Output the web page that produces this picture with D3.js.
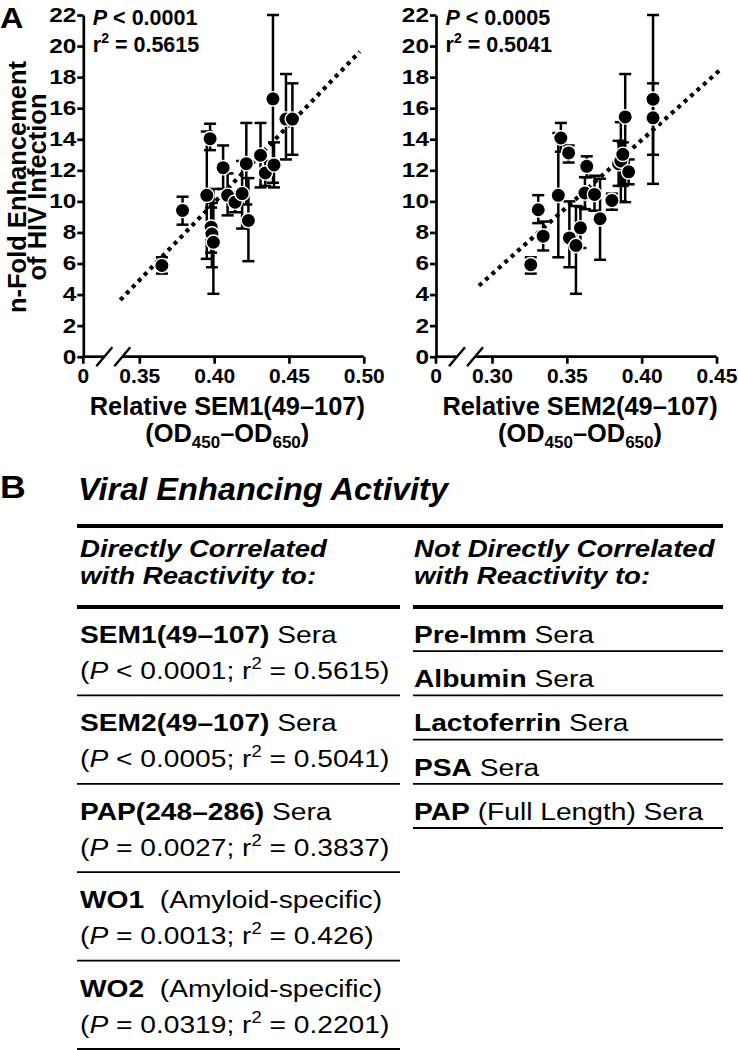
<!DOCTYPE html>
<html>
<head>
<meta charset="utf-8">
<script src="https://cdn.jsdelivr.net/npm/d3@7"></script>
<style>
  body { margin: 0; background: #fff; }
  text { font-family: "Liberation Sans", Arial, Helvetica, sans-serif; fill: #000; white-space: pre; }
</style>
</head>
<body>
<svg id="fig" width="738" height="1050"></svg>
<script>
// ---- panel A, left: SEM1(49-107) ----
const sem1X  = [0.3651, 0.3789, 0.3951, 0.3973, 0.3980, 0.3985, 0.3995, 0.4060, 0.4090, 0.4140, 0.4187, 0.4215, 0.4229, 0.4310, 0.4342, 0.4400, 0.4393, 0.4480, 0.4523];
const sem1Y  = [5.87, 9.42, 10.39, 14.04, 8.34, 7.90, 7.37, 12.17, 10.39, 9.95, 10.50, 12.43, 8.77, 12.97, 11.83, 12.35, 16.60, 15.30, 15.30];
const sem1Lo = [5.35, 8.50, 6.30, 13.30, 6.70, 5.76, 4.05, 10.80, 9.10, 9.30, 8.25, 9.80, 6.15, 10.90, 11.00, 10.90, 11.20, 12.70, 13.00];
const sem1Hi = [6.40, 10.30, 14.50, 15.00, 9.60, 9.90, 10.80, 13.60, 11.80, 10.60, 12.60, 15.05, 11.50, 15.05, 12.60, 13.80, 22.00, 18.20, 17.60];
const sem1FitX = [0.3373, 0.4973];
const sem1FitY = [3.65, 19.64];
const sem1Ticks = [0.35, 0.40, 0.45, 0.50];

// ---- panel A, right: SEM2(49-107) ----
const sem2X  = [0.3259, 0.3309, 0.3342, 0.3443, 0.3460, 0.3512, 0.3517, 0.3561, 0.3591, 0.3633, 0.3621, 0.3685, 0.3722, 0.3801, 0.3846, 0.3861, 0.3874, 0.3890, 0.3913, 0.4076, 0.4076];
const sem2Y  = [5.92, 9.46, 7.76, 10.39, 14.08, 13.12, 7.65, 7.16, 8.30, 12.26, 10.54, 10.45, 8.88, 10.06, 12.43, 12.60, 13.03, 15.44, 11.90, 16.58, 15.38];
const sem2Lo = [5.35, 8.60, 6.84, 6.40, 13.20, 12.50, 5.76, 4.05, 7.00, 11.55, 9.50, 9.40, 6.24, 9.46, 11.00, 10.00, 11.00, 9.95, 11.10, 13.00, 11.13];
const sem2Hi = [6.40, 10.40, 8.70, 14.40, 15.05, 13.60, 10.00, 9.70, 9.64, 12.90, 11.56, 11.65, 11.46, 10.50, 13.90, 15.10, 13.80, 18.20, 12.70, 22.00, 17.60];
const sem2FitX = [0.2913, 0.4523];
const sem2FitY = [4.57, 18.46];
const sem2Ticks = [0.30, 0.35, 0.40, 0.45];

const yTicks = d3.range(0, 23, 2);

// ---- panel B table ----
const corrNames  = ['SEM1(49–107)', 'SEM2(49–107)', 'PAP(248–286)', 'WO1', 'WO2'];
const corrSuffix = [' Sera', ' Sera', ' Sera', '  (Amyloid-specific)', '  (Amyloid-specific)'];
const corrOp     = ['<', '<', '=', '=', '='];
const corrP      = ['0.0001', '0.0005', '0.0027', '0.0013', '0.0319'];
const corrR2     = ['0.5615', '0.5041', '0.3837', '0.426', '0.2201'];
const notNames   = ['Pre-Imm', 'Albumin', 'Lactoferrin', 'PSA', 'PAP'];
const notSuffix  = [' Sera', ' Sera', ' Sera', ' Sera', ' (Full Length) Sera'];

const svg = d3.select('#fig');
const y = d3.scaleLinear().domain([0, 22]).range([356.7, 15]);

// text placed at (x, y), stretched horizontally by sx
function wideText(x, yy, sx) {
    return svg.append('g').attr('transform', `translate(${x},${yy}) scale(${sx},1)`).append('text');
}

function panel(ox, xs, ys, lo, hi, fitX, fitY, ticks, p, r2, label) {
    const g = svg.append('g').attr('transform', `translate(${ox},0)`);
    const x = d3.scaleLinear().domain([ticks[0], ticks[ticks.length - 1]]).range([56, 280.5]);

    let ya = g.append('g')
        .call(d3.axisLeft(y).tickValues(yTicks).tickSize(6).tickSizeOuter(0));
    let xa = g.append('g').attr('transform', `translate(0,${y(0)})`)
        .call(d3.axisBottom(x).tickValues(ticks).tickFormat(d3.format('.2f')).tickSize(7).tickSizeOuter(0).tickPadding(4.5));
    xa.select('.domain').remove();

    [ya, xa].forEach(a => {
        a.selectAll('path, line').attr('stroke', '#000').attr('stroke-width', 2.7);
        a.selectAll('text').attr('font-size', 21).attr('font-weight', 'bold')
            .attr('font-family', '"Liberation Sans", Arial, sans-serif').attr('fill', '#000');
    });
    ya.selectAll('text').attr('x', 0).attr('font-size', 20)
        .attr('transform', 'translate(-7,0) scale(1.22,1)');

    // x axis line, broken between 0 and the first tick
    const b1 = 21, b2 = 39;
    [[0, b1], [b2, 280.5]].forEach(s => {
        xa.append('line').attr('x1', s[0]).attr('x2', s[1]).attr('stroke', '#000').attr('stroke-width', 2.7);
    });
    [b1, b2].forEach(b => {
        xa.append('line').attr('x1', b - 8).attr('y1', 9.5).attr('x2', b + 8).attr('y2', -9.5)
            .attr('stroke', '#000').attr('stroke-width', 2.4);
    });
    let zero = xa.append('g');
    zero.append('line').attr('y2', 7).attr('stroke', '#000').attr('stroke-width', 2.7);
    zero.append('text').attr('y', 11.5).attr('dy', '0.71em').attr('text-anchor', 'middle')
        .attr('font-size', 21).attr('font-weight', 'bold').text('0');

    // error bars
    const idx = d3.range(xs.length);
    const eb = g.append('g').attr('stroke', '#000').attr('stroke-width', 2.5);
    eb.selectAll('line.v').data(idx).join('line').attr('class', 'v')
        .attr('x1', i => x(xs[i])).attr('x2', i => x(xs[i]))
        .attr('y1', i => y(lo[i])).attr('y2', i => y(hi[i]));
    eb.selectAll('line.lo').data(idx).join('line').attr('class', 'lo')
        .attr('x1', i => x(xs[i]) - 6).attr('x2', i => x(xs[i]) + 6)
        .attr('y1', i => y(lo[i])).attr('y2', i => y(lo[i]));
    eb.selectAll('line.hi').data(idx).join('line').attr('class', 'hi')
        .attr('x1', i => x(xs[i]) - 6).attr('x2', i => x(xs[i]) + 6)
        .attr('y1', i => y(hi[i])).attr('y2', i => y(hi[i]));

    // regression line
    g.append('path')
        .attr('d', d3.line().x(d => x(d[0])).y(d => y(d[1]))(d3.zip(fitX, fitY)))
        .attr('fill', 'none').attr('stroke', '#000').attr('stroke-width', 4.2)
        .attr('stroke-dasharray', '4,4.6');

    g.selectAll('circle').data(idx).join('circle')
        .attr('cx', i => x(xs[i])).attr('cy', i => y(ys[i])).attr('r', 7.2)
        .attr('fill', '#000').attr('stroke', '#fff').attr('stroke-width', 1.4);

    // stats
    let t1 = g.append('text').attr('x', 9.5).attr('y', 25).attr('font-size', 21.5).attr('font-weight', 'bold');
    t1.append('tspan').attr('font-style', 'italic').text('P');
    t1.append('tspan').text(' < ' + p);
    let t2 = g.append('text').attr('x', 9.5).attr('y', 52).attr('font-size', 21.5).attr('font-weight', 'bold');
    t2.append('tspan').text('r');
    t2.append('tspan').attr('font-size', 14).attr('dy', -9).text('2');
    t2.append('tspan').attr('dy', 9).text(' = ' + r2);

    // x title
    g.append('text').attr('x', 144).attr('y', 415).attr('text-anchor', 'middle')
        .attr('font-size', 25.4).attr('font-weight', 'bold').text(label);
    let t3 = g.append('text').attr('x', 144).attr('y', 442).attr('text-anchor', 'middle')
        .attr('font-size', 25.4).attr('font-weight', 'bold');
    t3.append('tspan').text('(OD');
    t3.append('tspan').attr('font-size', 17).attr('dy', 6).text('450');
    t3.append('tspan').attr('dy', -6).text('–OD');
    t3.append('tspan').attr('font-size', 17).attr('dy', 6).text('650');
    t3.append('tspan').attr('dy', -6).text(')');
}

wideText(0, 28, 1.08).attr('font-size', 30).attr('font-weight', 'bold').text('A');

// y title
let yt = svg.append('g').attr('transform', 'translate(0,187) rotate(-90)');
yt.append('text').attr('y', 26).attr('text-anchor', 'middle').attr('font-size', 25.5).attr('font-weight', 'bold').text('n-Fold Enhancement');
yt.append('text').attr('y', 46).attr('text-anchor', 'middle').attr('font-size', 25.5).attr('font-weight', 'bold').text('of HIV Infection');

panel(83.3, sem1X, sem1Y, sem1Lo, sem1Hi, sem1FitX, sem1FitY, sem1Ticks, '0.0001', '0.5615', 'Relative SEM1(49–107)');
panel(436, sem2X, sem2Y, sem2Lo, sem2Hi, sem2FitX, sem2FitY, sem2Ticks, '0.0005', '0.5041', 'Relative SEM2(49–107)');

// ---- panel B ----
function rule(x1, x2, yy, w) {
    svg.append('line').attr('x1', x1).attr('x2', x2).attr('y1', yy).attr('y2', yy)
        .attr('stroke', '#000').attr('stroke-width', w);
}

wideText(0, 498, 1.15).attr('font-size', 31).attr('font-weight', 'bold').text('B');
wideText(78, 500, 1.05).attr('font-size', 31).attr('font-weight', 'bold')
    .attr('font-style', 'italic').text('Viral Enhancing Activity');
rule(77, 723, 526, 4);

const headSx = 1.15;
[['Directly Correlated', 'with Reactivity to:', 80], ['Not Directly Correlated', 'with Reactivity to:', 414]].forEach(h => {
    wideText(h[2], 557, headSx).attr('font-size', 24).attr('font-weight', 'bold')
        .attr('font-style', 'italic').text(h[0]);
    wideText(h[2], 584, headSx).attr('font-size', 24).attr('font-weight', 'bold')
        .attr('font-style', 'italic').text(h[1]);
});
rule(77, 400, 607, 4);
rule(413, 723, 607, 4);

const top0 = 607, rowL = 88.4, rowR = 44.2, bodySx = 1.15, bodyFs = 24.5;
corrNames.forEach((n, i) => {
    const r0 = top0 + i * rowL;
    let a = wideText(80, r0 + 36, bodySx).attr('font-size', bodyFs);
    a.append('tspan').attr('font-weight', 'bold').text(n);
    a.append('tspan').text(corrSuffix[i]);
    let b = wideText(80, r0 + 72, bodySx).attr('font-size', bodyFs);
    b.append('tspan').text('(');
    b.append('tspan').attr('font-style', 'italic').text('P');
    b.append('tspan').text(` ${corrOp[i]} ${corrP[i]}; r`);
    b.append('tspan').attr('font-size', 16).attr('dy', -10).text('2');
    b.append('tspan').attr('dy', 10).text(` = ${corrR2[i]})`);
    rule(77, 400, r0 + rowL, 1.8);
});

notNames.forEach((n, i) => {
    const r0 = top0 + i * rowR;
    let a = wideText(414, r0 + 36, bodySx).attr('font-size', bodyFs);
    a.append('tspan').attr('font-weight', 'bold').text(n);
    a.append('tspan').text(notSuffix[i]);
    rule(413, 723, r0 + rowR, 1.8);
});
</script>
</body>
</html>
